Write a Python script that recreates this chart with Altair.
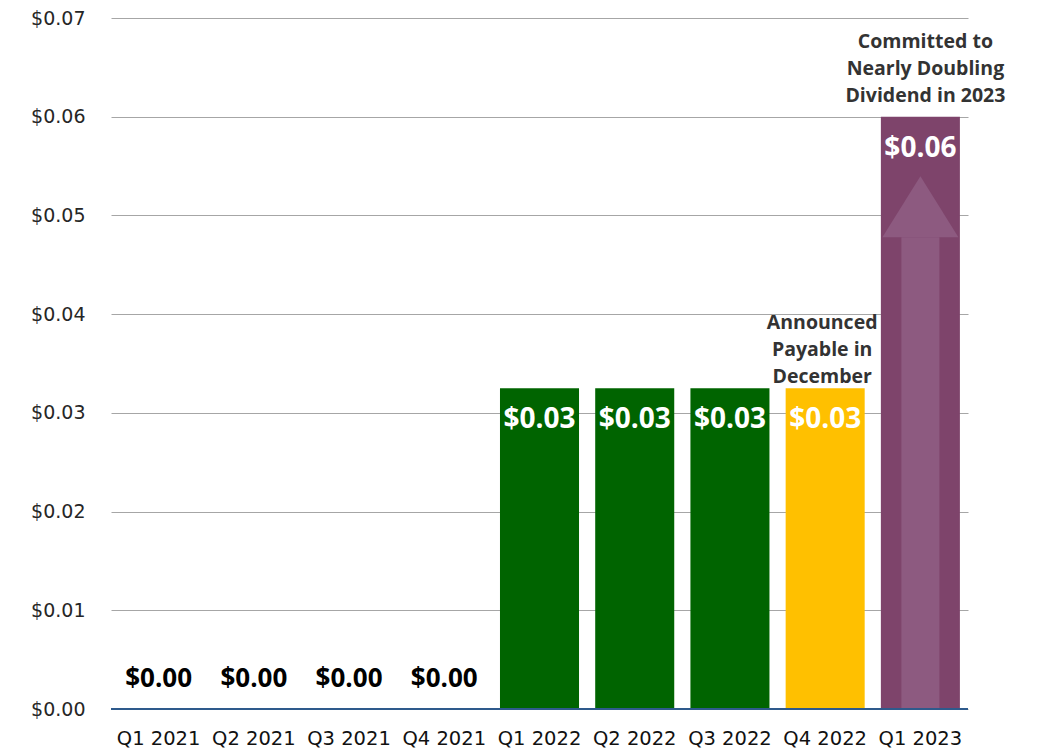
import altair as alt
import pandas as pd

quarters = ["Q1 2021", "Q2 2021", "Q3 2021", "Q4 2021", "Q1 2022",
            "Q2 2022", "Q3 2022", "Q4 2022", "Q1 2023"]
dividends = [0.0, 0.0, 0.0, 0.0, 0.0325, 0.0325, 0.0325, 0.0325, 0.06]
labels = ["$0.00", "$0.00", "$0.00", "$0.00", "$0.03", "$0.03", "$0.03", "$0.03", "$0.06"]
status = ["Paid", "Paid", "Paid", "Paid", "Paid", "Paid", "Paid", "Announced", "Committed"]

status_domain = ["Paid", "Announced", "Committed"]
status_colors = ["#006400", "#FFC000", "#7E446B"]

note1_quarter = ["Q4 2022"]
note1_value = [0.0325]
note1_text = [["Announced", "Payable in", "December"]]
note2_quarter = ["Q1 2023"]
note2_value = [0.06]
note2_text = [["Committed to", "Nearly Doubling", "Dividend in 2023"]]

arrow_quarter = ["Q1 2023"]
arrow_base = [0.0478]

df = pd.DataFrame({"quarter": quarters, "value": dividends,
                   "label": labels, "status": status})
note1 = pd.DataFrame({"quarter": note1_quarter, "value": note1_value, "text": note1_text})
note2 = pd.DataFrame({"quarter": note2_quarter, "value": note2_value, "text": note2_text})
arrow = pd.DataFrame({"quarter": arrow_quarter, "base": arrow_base})

x = alt.X("quarter:N", sort=quarters, title=None,
          scale=alt.Scale(domain=quarters, paddingInner=0.17, paddingOuter=0.085),
          axis=alt.Axis(labelAngle=0, ticks=False, domain=False, labelPadding=20,
                        labelFont="DejaVu Sans", labelFontSize=19.5, labelColor="#111111",
                        grid=False))
yscale = alt.Scale(domain=[0, 0.07], nice=False)
y = alt.Y("value:Q", title=None, scale=yscale,
          axis=alt.Axis(values=[0, 0.01, 0.02, 0.03, 0.04, 0.05, 0.06, 0.07],
                        format="$.2f", ticks=False, domain=False, labelPadding=26,
                        labelFont="DejaVu Sans", labelFontSize=19, labelColor="#262626",
                        gridColor="#a6a6a6", gridWidth=1))

xq = alt.X("quarter:N", sort=quarters, scale=alt.Scale(domain=quarters))

base = alt.Chart(df)

bars = base.mark_bar().encode(
    x=x, y=y,
    color=alt.Color("status:N", scale=alt.Scale(domain=status_domain, range=status_colors),
                    legend=None),
)

shaft = alt.Chart(arrow).mark_bar(size=38, color="#8D5A80").encode(
    x=xq, y=alt.Y("base:Q", scale=yscale),
)
head = alt.Chart(arrow).mark_point(
    shape="M -1 0 L 0 -1.6 L 1 0 Z", size=5776, filled=True, opacity=1,
    color="#8D5A80", strokeWidth=0,
).encode(x=xq, y=alt.Y("base:Q", scale=yscale))

zero_labels = base.transform_filter("datum.value == 0").mark_text(
    font="Open Sans", fontWeight="bold", fontSize=26, color="#000000",
    baseline="middle", dy=-30,
).encode(x=x, y=y, text="label:N")

bar_labels = base.transform_filter("datum.value > 0").mark_text(
    font="Open Sans", fontWeight="bold", fontSize=28, color="#ffffff",
    baseline="middle", dy=32,
).encode(x=x, y=y, text="label:N")

note_style = dict(font="Open Sans", fontWeight="bold", fontSize=19.5, color="#333333",
                  baseline="middle", lineHeight=27)
note1_text_layer = alt.Chart(note1).mark_text(dy=-65, dx=-3, **note_style).encode(
    x=xq, y=alt.Y("value:Q", scale=yscale), text="text")
note2_text_layer = alt.Chart(note2).mark_text(dy=-75, dx=5, **note_style).encode(
    x=xq, y=alt.Y("value:Q", scale=yscale), text="text")

zero_line = alt.Chart(pd.DataFrame({"v": [0]})).mark_rule(
    color="#2E5A8C", strokeWidth=2
).encode(y=alt.Y("v:Q", scale=yscale))

chart = alt.layer(bars, shaft, head, zero_line, zero_labels, bar_labels,
                  note1_text_layer, note2_text_layer).properties(
    width=857, height=691,
    autosize=alt.AutoSizeParams(type="none"),
    padding={"left": 103, "top": 10, "right": 60, "bottom": 40},
).configure_view(stroke=None)

chart.save("out.html", embed_options={"renderer": "svg", "actions": False})
